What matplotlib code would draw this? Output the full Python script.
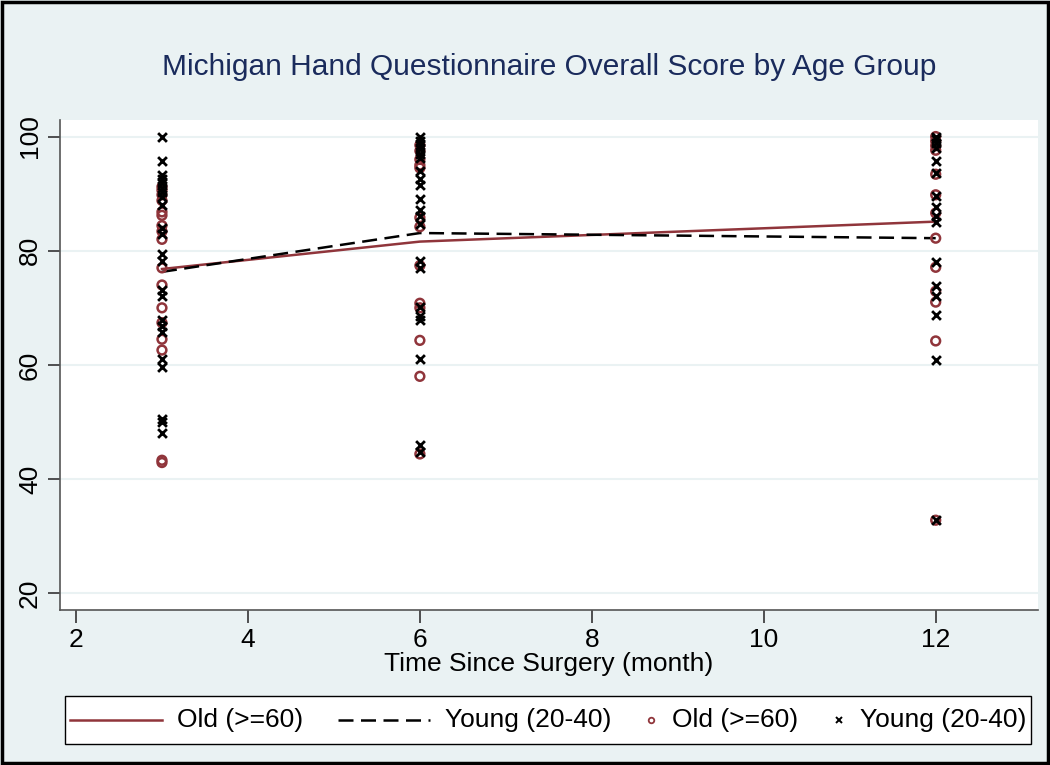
import numpy as np
import matplotlib
matplotlib.use("Agg")
import matplotlib.pyplot as plt
from matplotlib.patches import Rectangle
from matplotlib.lines import Line2D
from matplotlib.offsetbox import (AnchoredOffsetbox, DrawingArea, HPacker,
                                  TextArea)

plt.rcParams['font.family'] = ['Liberation Sans', 'DejaVu Sans']

# mean lines
months = [3, 6, 12]
old_mean = [76.8, 81.6, 85.1]
young_mean = [76.3, 83.1, 82.2]

# individual scores
old_3 = [91.2, 90.6, 89.8, 88.8, 86.8, 86.2, 84.4, 83.4, 82.0, 77.0, 74.0,
         70.0, 67.4, 64.5, 62.6, 43.3, 42.9]
old_6 = [98.5, 97.5, 96.0, 95.0, 94.5, 85.8, 84.2, 77.4, 70.8, 70.0, 64.3,
         58.0, 44.4]
old_12 = [100.0, 99.2, 98.4, 97.6, 93.4, 89.8, 86.6, 82.2, 77.1, 72.9, 71.0,
          64.2, 32.8]
young_3 = [100.0, 95.8, 93.2, 92.5, 91.8, 91.0, 90.3, 89.5, 88.0, 84.0, 83.0,
           79.5, 78.2, 73.2, 72.0, 67.8, 66.8, 65.8, 61.0, 59.6, 50.6, 50.0, 48.0]
young_6 = [100.0, 99.3, 98.6, 97.8, 97.0, 96.2, 94.0, 92.5, 91.5, 89.0, 87.2,
           86.0, 84.6, 78.2, 77.0, 70.2, 68.5, 67.8, 61.0, 46.0, 44.8]
young_12 = [100.0, 99.5, 98.8, 98.0, 95.8, 93.6, 89.6, 87.6, 86.0, 85.0, 78.0,
            73.8, 72.0, 68.8, 60.8, 32.8]

legend_labels = ['Old (>=60)', 'Young (20-40)', 'Old (>=60)', 'Young (20-40)']

old_x = [3] * len(old_3) + [6] * len(old_6) + [12] * len(old_12)
old_y = old_3 + old_6 + old_12
young_x = [3] * len(young_3) + [6] * len(young_6) + [12] * len(young_12)
young_y = young_3 + young_6 + young_12

RED = '#90353B'
BG = '#EAF2F3'
NAVY = '#1A2B5C'
DASH = (0, (6, 3))

fig = plt.figure(figsize=(10.5, 7.65), dpi=100, facecolor=BG)
ax = fig.add_axes([60 / 1050, 1 - 610 / 765, 978 / 1050, 490 / 765])
ax.set_facecolor('white')

for v in [20, 40, 60, 80, 100]:
    ax.axhline(v, color=BG, lw=1.5, zorder=0)

ax.plot(months, old_mean, color=RED, lw=1.8, zorder=3)
ax.plot(months, young_mean, color='black', lw=1.8, ls=DASH, zorder=3)
ax.scatter(old_x, old_y, s=40, facecolors='none', edgecolors=RED,
           linewidths=1.8, zorder=4)
ax.scatter(young_x, young_y, s=40, marker='x', color='black',
           linewidths=2.0, zorder=5)

ax.set_xlim(1.814, 13.19)
ax.set_ylim(17.07, 102.9)
ax.set_xticks([2, 4, 6, 8, 10, 12])
ax.set_yticks([20, 40, 60, 80, 100])
ax.tick_params(axis='both', direction='out', length=9, width=1.2,
               color='#333333', labelsize=19, pad=4)
for lab in ax.get_yticklabels():
    lab.set_rotation(90)
    lab.set_va('center')
for side in ['top', 'right']:
    ax.spines[side].set_visible(False)
for side in ['left', 'bottom']:
    ax.spines[side].set_color('#555555')
    ax.spines[side].set_linewidth(1.2)

ax.set_xlabel('Time Since Surgery (month)', fontsize=19, labelpad=0)

fig.text(549 / 1050, 1 - 67 / 765,
         'Michigan Hand Questionnaire Overall Score by Age Group',
         ha='center', va='center', fontsize=21.5, color=NAVY)

# legend built by hand so the marker keys stay narrow
def key_line(color, ls):
    da = DrawingArea(66, 26, 0, 0)
    da.add_artist(Line2D([0, 66], [13, 13], color=color, lw=1.8, ls=ls))
    return da

def key_marker(marker, **kw):
    da = DrawingArea(8, 26, 0, 0)
    da.add_artist(Line2D([4], [13], ls='none', marker=marker, **kw))
    return da

keys = [key_line(RED, '-'), key_line('black', DASH),
        key_marker('o', ms=4, mfc='none', mec=RED, mew=1.3),
        key_marker('x', ms=4, color='black', mew=1.4)]
items = []
for k, lab in zip(keys, legend_labels):
    items.append(HPacker(children=[k, TextArea(lab, textprops=dict(size=19))],
                         sep=11, align='center'))
row = HPacker(children=items, sep=25, align='center')
box = AnchoredOffsetbox(loc='center', child=row, pad=0.4, borderpad=0,
                        frameon=True, bbox_to_anchor=(548 / 1050, 1 - 720 / 765),
                        bbox_transform=fig.transFigure)
box.patch.set_edgecolor('black')
box.patch.set_linewidth(1.0)
box.patch.set_boxstyle('square', pad=0)
fig.add_artist(box)

fig.patches.append(Rectangle((0.002, 0.002), 0.996, 0.996, transform=fig.transFigure,
                             fill=False, edgecolor='black', lw=2.5))

fig.savefig('out.png', dpi=100, facecolor=BG)
